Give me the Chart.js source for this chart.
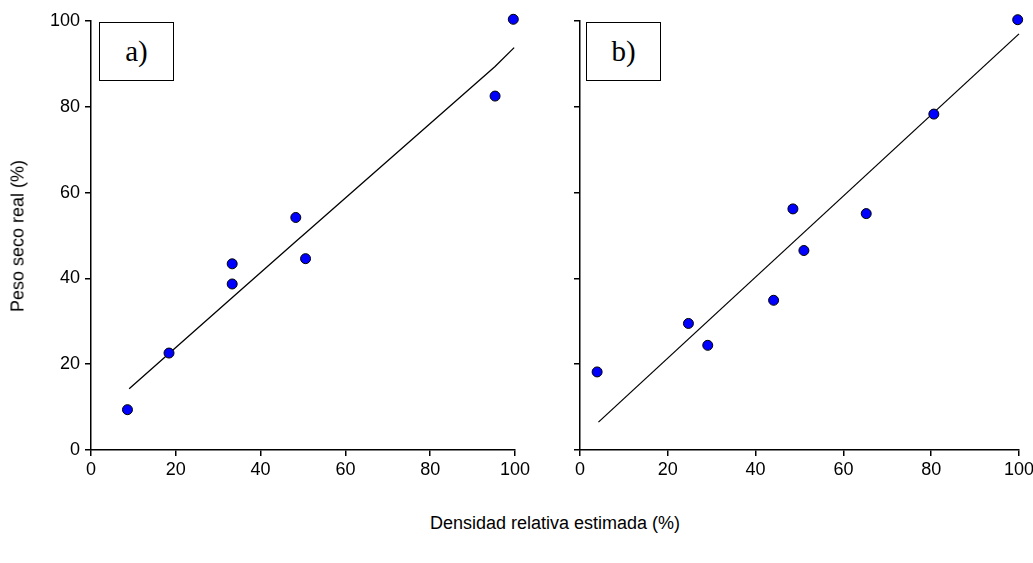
<!DOCTYPE html>
<html>
<head>
<meta charset="utf-8">
<script src="https://cdn.jsdelivr.net/npm/chart.js@4.4.0/dist/chart.umd.min.js"></script>
<style>
  html, body { margin: 0; padding: 0; background: #fff; overflow: hidden; }
  body { width: 1033px; height: 563px; position: relative; font-family: 'Liberation Sans', Arial, sans-serif; }
  canvas { position: absolute; top: 0; }
  #chartA { left: 0; }
  #chartB { left: 530px; }
  .panel-label {
    position: absolute; top: 22px; width: 73px; height: 57px;
    border: 1.5px solid #000; background: #fff;
    font-family: 'Liberation Serif', 'Times New Roman', serif; font-size: 29px;
    display: flex; align-items: center; justify-content: center;
  }
  #ytitle {
    position: absolute; left: 18px; top: 236px; font-size: 18px; white-space: nowrap;
    transform: translate(-50%, -50%) rotate(-90deg);
  }
  #xtitle {
    position: absolute; left: 555px; top: 523px; font-size: 18px; white-space: nowrap;
    transform: translate(-50%, -50%);
  }
</style>
</head>
<body>
<canvas id="chartA" width="540" height="500"></canvas>
<canvas id="chartB" width="520" height="500"></canvas>
<div class="panel-label" style="left:99px">a)</div>
<div class="panel-label" style="left:586px">b)</div>
<div id="ytitle">Peso seco real (%)</div>
<div id="xtitle">Densidad relativa estimada (%)</div>

<script>
// panel a) observed points
const densA = [8.6, 18.4, 33.3, 33.3, 48.3, 50.6, 95.3, 99.6];
const pesoA = [9.4, 22.6, 43.4, 38.7, 54.2, 44.6, 82.5, 100.4];
// panel a) fitted line
const fitDensA = [9.0, 18.4, 33.4, 48.5, 50.6, 95.3, 99.8];
const fitPesoA = [14.3, 22.5, 35.6, 48.8, 50.6, 89.4, 93.8];

// panel b) observed points
const densB = [3.9, 24.7, 29.1, 44.1, 48.5, 51.0, 65.2, 80.6, 99.7];
const pesoB = [18.2, 29.5, 24.4, 34.9, 56.2, 46.5, 55.1, 78.3, 100.3];
// panel b) fitted line
const fitDensB = [4.2, 100.0];
const fitPesoB = [6.5, 97.0];

const axisTicks = [0, 20, 40, 60, 80, 100];

const tickFont = { family: "'Liberation Sans', Arial, sans-serif", size: 18 };

function toXY(xs, ys) {
  return xs.map((x, i) => ({ x: x, y: ys[i] }));
}

function makeChart(id, pts, fit, yWidth, padRight, showYLabels) {
  const ctx = document.getElementById(id).getContext('2d');
  return new Chart(ctx, {
    type: 'scatter',
    data: {
      datasets: [
        {
          data: pts,
          backgroundColor: '#0000ff',
          borderColor: '#000',
          borderWidth: 1,
          pointRadius: 5,
          clip: false
        },
        {
          data: fit,
          showLine: true,
          pointRadius: 0,
          borderColor: '#000',
          borderWidth: 1.3,
          clip: false
        }
      ]
    },
    options: {
      responsive: false,
      animation: false,
      layout: { padding: { top: 21, right: padRight, bottom: 0, left: 0 } },
      plugins: { legend: { display: false }, tooltip: { enabled: false } },
      scales: {
        x: {
          min: 0, max: 100,
          afterBuildTicks: s => { s.ticks = axisTicks.map(v => ({ value: v })); },
          afterFit: s => { s.height = 50; },
          grid: { drawOnChartArea: false, drawTicks: true, tickLength: 6, color: '#000', lineWidth: 1.5 },
          border: { color: '#000', width: 1.5 },
          ticks: { color: '#000', font: tickFont, padding: 3, maxRotation: 0 }
        },
        y: {
          min: 0, max: 100,
          afterBuildTicks: s => { s.ticks = axisTicks.map(v => ({ value: v })); },
          afterFit: s => { s.width = yWidth; },
          grid: { drawOnChartArea: false, drawTicks: true, tickLength: 6, color: '#000', lineWidth: 1.5 },
          border: { color: '#000', width: 1.5 },
          ticks: {
            color: '#000', font: tickFont, padding: 5,
            callback: v => showYLabels ? v : ''
          }
        }
      }
    }
  });
}

makeChart('chartA', toXY(densA, pesoA), toXY(fitDensA, fitPesoA), 91, 25, true);
makeChart('chartB', toXY(densB, pesoB), toXY(fitDensB, fitPesoB), 50, 31, false);
</script>
</body>
</html>
